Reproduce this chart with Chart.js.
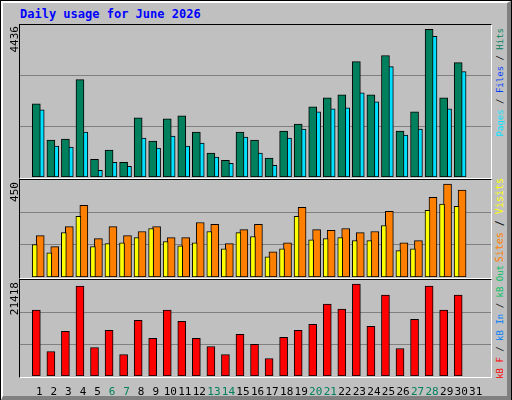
<!DOCTYPE html>
<html><head><meta charset="utf-8">
<script src="https://cdn.jsdelivr.net/npm/chart.js@4"></script>
<style>
body{margin:0;width:512px;height:400px;background:#fff;font-family:"DejaVu Sans Mono",monospace;}
#outer{position:absolute;left:0;top:0;width:510px;height:398px;border:1px solid #000;background:#c0c0c0;}
#bev{position:absolute;left:1px;top:1px;width:504px;height:393px;border-top:2px solid #fff;border-left:2px solid #fff;border-right:4px solid #808080;border-bottom:4px solid #808080;}
.frame{position:absolute;border-top:1px solid #000;border-left:1px solid #000;border-right:1px solid #fff;border-bottom:1px solid #fff;}
canvas{position:absolute;}
.v{position:absolute;writing-mode:vertical-rl;transform:rotate(180deg);font-size:11px;white-space:nowrap;}
#title{position:absolute;left:20px;top:7px;color:#0000ff;font-weight:bold;font-size:12px;}
</style></head><body>
<div id="outer"></div><div id="bev"></div>
<div id="title">Daily usage for June 2026</div>
<div class="frame" style="left:19px;top:24px;width:471px;height:153px"></div>
<div class="frame" style="left:19px;top:179px;width:471px;height:98px"></div>
<div class="frame" style="left:19px;top:279px;width:471px;height:97px"></div>
<canvas id="c1" width="471" height="152" style="left:20px;top:25px"></canvas>
<canvas id="c2" width="471" height="97" style="left:20px;top:180px"></canvas>
<canvas id="c3" width="471" height="118" style="left:20px;top:280px"></canvas>
<div class="v" style="left:8px;top:26px;color:#000">4436</div>
<div class="v" style="left:8px;top:182px;color:#000">450</div>
<div class="v" style="left:8px;top:282px;color:#000">21418</div>
<div class="v" style="left:495px;top:28px;font-size:9px"><span style="color:#00e0ff">Pages</span> / <span style="color:#0040ff">Files</span> / <span style="color:#00805c">Hits</span></div>
<div class="v" style="left:494px;top:178px;font-size:10px"><span style="color:#ff8000">Sites</span> / <span style="color:#ffff00">Visits</span></div>
<div class="v" style="left:495px;top:265px;font-size:9px"><span style="color:#ff0000">kB F</span> / <span style="color:#0080ff">kB In</span> / <span style="color:#00c060">kB Out</span></div>
<script>
const days=[1,2,3,4,5,6,7,8,9,10,11,12,13,14,15,16,17,18,19,20,21,22,23,24,25,26,27,28,29,30,31];
const weekendDays=[6,7,13,14,20,21,27,28];
const hits=[2135,1077,1107,2840,519,784,431,1724,1048,1695,1783,1313,696,490,1313,1077,549,1342,1548,2047,2312,2400,3369,2400,3546,1342,1901,4309,2312,3340];
const files=[1958,900,871,1313,196,431,313,1137,842,1195,900,989,578,402,1166,696,343,1137,1401,1901,1988,2018,2459,2194,3222,1225,1401,4104,1988,3075];
const pages=[226,226,343,372,226,343,226,490,313,490,255,255,255,196,284,313,137,196,255,196,313,313,255,343,637,137,343,343,431,372];
const visits=[150,112,206,281,141,155,159,183,225,164,145,159,211,131,206,188,94,131,281,173,178,183,169,169,239,122,131,309,338,328];
const sites=[192,141,234,333,178,234,192,211,234,183,183,253,244,155,220,244,117,159,323,220,216,225,206,211,305,159,169,370,431,403];
const kbytes=[14680,5468,9962,20073,6367,10186,4794,12433,8389,14680,12208,8389,6591,4794,9288,7041,3895,8614,10186,11535,16029,14905,20523,11085,18050,6142,12658,20073,14680,18050];
const maxHits=4436, maxVisits=450, maxKB=21418;

function pts(arr,dx){return arr.map((v,i)=>({x:days[i]+dx,y:v}));}
function ds(arr,dx,color,w,bw){return {data:pts(arr,dx),backgroundColor:color,borderColor:'#000',borderWidth:bw,barThickness:w,borderSkipped:false,grouped:false};}
function make(id,datasets,max,showX){
  return new Chart(document.getElementById(id),{type:'bar',data:{datasets},
  options:{responsive:false,animation:false,devicePixelRatio:1,layout:{padding:0},
   plugins:{legend:{display:false},tooltip:{enabled:false}},
   scales:{
    x:{type:'linear',min:0.4,max:31.733,display:showX,grid:{display:false},border:{display:false},
       afterBuildTicks:s=>{s.ticks=days.map(d=>({value:d}));},
       afterFit:s=>{s.height=showX?22:0;},
       ticks:{autoSkip:false,maxRotation:0,padding:2,labelOffset:3,font:{family:'DejaVu Sans Mono',size:11},
         color:c=>weekendDays.includes(c.tick.value)?'#00805c':'#000',callback:v=>String(v)}},
    y:{min:0,max:max,grid:{color:'#808080',lineWidth:1,drawTicks:false},border:{display:false},
       afterBuildTicks:s=>{s.ticks=[{value:max/3},{value:2*max/3}];},
       afterFit:s=>{s.width=0;},ticks:{display:false}}
   }}});
}
make('c1',[ds(hits,0,'#00805c',8,1),ds(pages,-0.05,'#0040ff',2,0),ds(files,0.267,'#00e0ff',8,1)],maxHits,false);
make('c2',[ds(visits,-0.11,'#ffff00',5,1),ds(sites,0.267,'#ff8000',8,1)],maxVisits,false);
make('c3',[ds(kbytes,0,'#ff0000',8,1)],maxKB,true);
</script></body></html>
